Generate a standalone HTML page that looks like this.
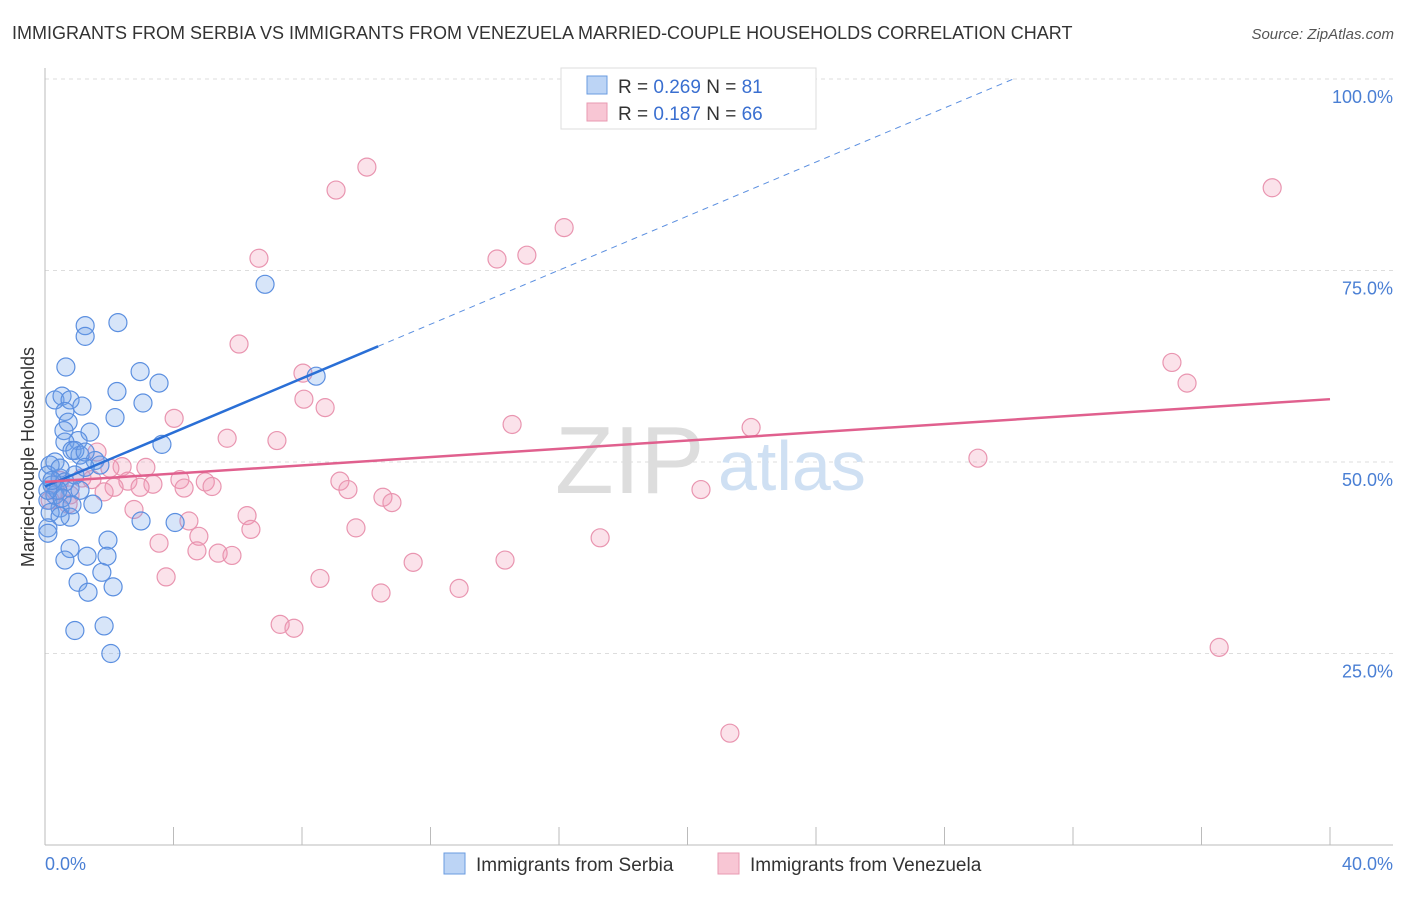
<!DOCTYPE html>
<html><head><meta charset="utf-8"><style>
body{margin:0;background:#fff;font-family:"Liberation Sans",sans-serif;}
svg text{font-family:"Liberation Sans",sans-serif;}
</style></head><body>
<svg width="1406" height="892" xmlns="http://www.w3.org/2000/svg">
<text x="12" y="39" font-size="18" fill="#333">IMMIGRANTS FROM SERBIA VS IMMIGRANTS FROM VENEZUELA MARRIED-COUPLE HOUSEHOLDS CORRELATION CHART</text>
<text x="1394" y="39" font-size="15" fill="#555" font-style="italic" text-anchor="end">Source: ZipAtlas.com</text>
<g id="grid"></g>
<g id="axes"></g>
<text x="555" y="493" font-size="96" fill="#ddd" font-family="Liberation Serif">ZIP</text>
<text x="718" y="490" font-size="70" fill="#cfe0f3">atlas</text>
<g id="pts"></g>
<g id="trend"></g>
<text transform="translate(34,457) rotate(-90)" font-size="18" fill="#333" text-anchor="middle">Married-couple Households</text>
<text x="45" y="870" font-size="18" fill="#4a7fd4">0.0%</text>
<text x="1393" y="870" font-size="18" fill="#4a7fd4" text-anchor="end">40.0%</text>
<g>
<rect x="561" y="68" width="255" height="61" fill="#fff" stroke="#ddd"/>
<rect x="587" y="76" width="20" height="18" fill="#bcd4f5" stroke="#6a9be0"/>
<rect x="587" y="103" width="20" height="18" fill="#f8c6d4" stroke="#e89ab2"/>
<text x="618" y="93" font-size="19" fill="#333">R = <tspan fill="#3a6fd0">0.269</tspan>   N = <tspan fill="#3a6fd0"> 81</tspan></text>
<text x="618" y="120" font-size="19" fill="#333">R =  <tspan fill="#3a6fd0">0.187</tspan>   N = <tspan fill="#3a6fd0">66</tspan></text>
</g>
<g>
<rect x="444" y="853" width="21" height="21" fill="#bcd4f5" stroke="#6a9be0"/>
<text x="476" y="871" font-size="19" fill="#333">Immigrants from Serbia</text>
<rect x="718" y="853" width="21" height="21" fill="#f8c6d4" stroke="#e89ab2"/>
<text x="750" y="871" font-size="19" fill="#333">Immigrants from Venezuela</text>
</g>
</svg>
<script>
const yTicks=[25,50,75,100];
const yTickLabels=["25.0%","50.0%","75.0%","100.0%"];
const serbiaX=[6.85,1.25,1.25,2.27,0.65,2.96,3.55,8.44,2.24,3.05,0.31,0.53,0.78,1.15,0.62,2.18,0.72,1.40,0.59,1.03,0.62,3.64,0.84,1.09,1.56,0.31,0.16,0.09,0.47,0.22,0.78,1.09,0.31,0.09,1.49,0.47,0.16,0.78,0.47,2.99,4.05,0.09,0.09,1.96,0.78,1.31,1.93,0.62,1.77,1.03,1.34,2.12,0.93,1.84,2.05,0.93,1.25,1.71,0.47,0.62,0.93,1.25,0.40,0.53,0.84,0.09,0.22];
const serbiaY=[73.2,67.8,66.4,68.2,62.4,61.8,60.3,61.2,59.2,57.7,58.1,58.6,58.1,57.3,56.6,55.8,55.2,53.9,54.1,52.8,52.6,52.3,51.5,50.9,50.2,50.0,49.6,48.3,47.9,47.0,46.6,46.3,45.7,45.0,44.5,44.0,43.4,42.8,42.9,42.3,42.1,41.4,40.7,39.8,38.7,37.7,37.7,37.2,35.6,34.3,33.0,33.7,28.0,28.6,25.0,51.5,51.3,49.6,49.2,47.4,48.3,49.3,46.3,45.3,44.4,46.3,47.6];
const venezX=[10.02,9.06,38.2,16.16,15.0,14.07,6.66,6.04,35.08,35.55,8.03,8.06,8.72,4.02,14.54,21.98,5.67,7.22,29.04,1.62,2.40,3.14,2.02,4.20,4.99,9.18,2.58,3.36,1.46,2.15,2.96,4.33,5.20,9.43,20.42,1.84,10.52,10.80,0.72,2.77,6.29,4.48,6.41,9.68,4.79,17.28,3.55,4.73,5.39,5.82,14.32,11.46,3.77,8.56,12.89,10.46,7.32,7.75,36.55,21.32,0.31,0.47,0.78,1.15,0.16];
const venezY=[88.5,85.5,85.8,80.6,77.0,76.5,76.6,65.4,63.0,60.3,61.6,58.2,57.1,55.7,54.9,54.5,53.1,52.8,50.5,51.3,49.4,49.3,49.2,47.7,47.4,47.5,47.5,47.1,47.7,46.7,46.7,46.6,46.8,46.4,46.4,46.1,45.4,44.7,44.5,43.8,43.0,42.3,41.2,41.4,40.3,40.1,39.4,38.4,38.1,37.8,37.2,36.9,35.0,34.8,33.5,32.9,28.8,28.3,25.8,14.6,46.3,47.6,45.7,47.9,45.0];
const serbiaTrend=[46.8,1.765]; // intercept, slope per x%
const serbiaSolidEnd=10.37;
const venezTrend=[47.4,0.27];
const NS="http://www.w3.org/2000/svg";
const X0=45,X1=1330,Y0=845,Y100=79;
function sx(v){return X0+(X1-X0)*v/40;}
function sy(v){return Y0-(Y0-Y100)*v/100;}
function mk(tag,attrs,parent){const e=document.createElementNS(NS,tag);for(const k in attrs)e.setAttribute(k,attrs[k]);parent.appendChild(e);return e;}
const grid=document.getElementById('grid'),axes=document.getElementById('axes');
yTicks.forEach((t,i)=>{
 const l=mk('line',{x1:X0,x2:1393,y1:sy(t),y2:sy(t),stroke:'#ddd','stroke-dasharray':'4,4'},grid);
 
 
 const tx=mk('text',{x:1393,y:sy(t)+24,'font-size':18,fill:'#4a7fd4','text-anchor':'end'},axes);
 tx.textContent=yTickLabels[i];
 
 
});
const ya=mk('line',{x1:X0,x2:X0,y1:68,y2:Y0,stroke:'#bbb'},axes);


const xa=mk('line',{x1:X0,x2:1393,y1:Y0,y2:Y0,stroke:'#bbb'},axes);


for(let i=0;i<=10;i++){const t=mk('line',{x1:sx(i*4),x2:sx(i*4),y1:827,y2:Y0,stroke:'#bbb'},axes);
 
 }
const pts=document.getElementById('pts');
venezX.forEach((v,i)=>{const c=mk('circle',{cx:sx(v),cy:sy(venezY[i]),r:9,fill:'rgba(242,150,180,0.28)',stroke:'#e995b0','stroke-width':1.2},pts);
 
 });
serbiaX.forEach((v,i)=>{const c=mk('circle',{cx:sx(v),cy:sy(serbiaY[i]),r:9,fill:'rgba(110,160,235,0.28)',stroke:'#5b8fe0','stroke-width':1.2},pts);
 
 });
const tr=document.getElementById('trend');
const xEndDash=(100-serbiaTrend[0])/serbiaTrend[1];
const d=mk('line',{x1:sx(serbiaSolidEnd),y1:sy(serbiaTrend[0]+serbiaTrend[1]*serbiaSolidEnd),x2:sx(xEndDash),y2:sy(100),stroke:'#5b8fe0','stroke-width':1,'stroke-dasharray':'6,5'},tr);


const s=mk('line',{x1:sx(0),y1:sy(serbiaTrend[0]),x2:sx(serbiaSolidEnd),y2:sy(serbiaTrend[0]+serbiaTrend[1]*serbiaSolidEnd),stroke:'#2a6fd6','stroke-width':2.5},tr);


const p=mk('line',{x1:sx(0),y1:sy(venezTrend[0]),x2:sx(40),y2:sy(venezTrend[0]+venezTrend[1]*40),stroke:'#e0608e','stroke-width':2.5},tr);


</script>
</body></html>
